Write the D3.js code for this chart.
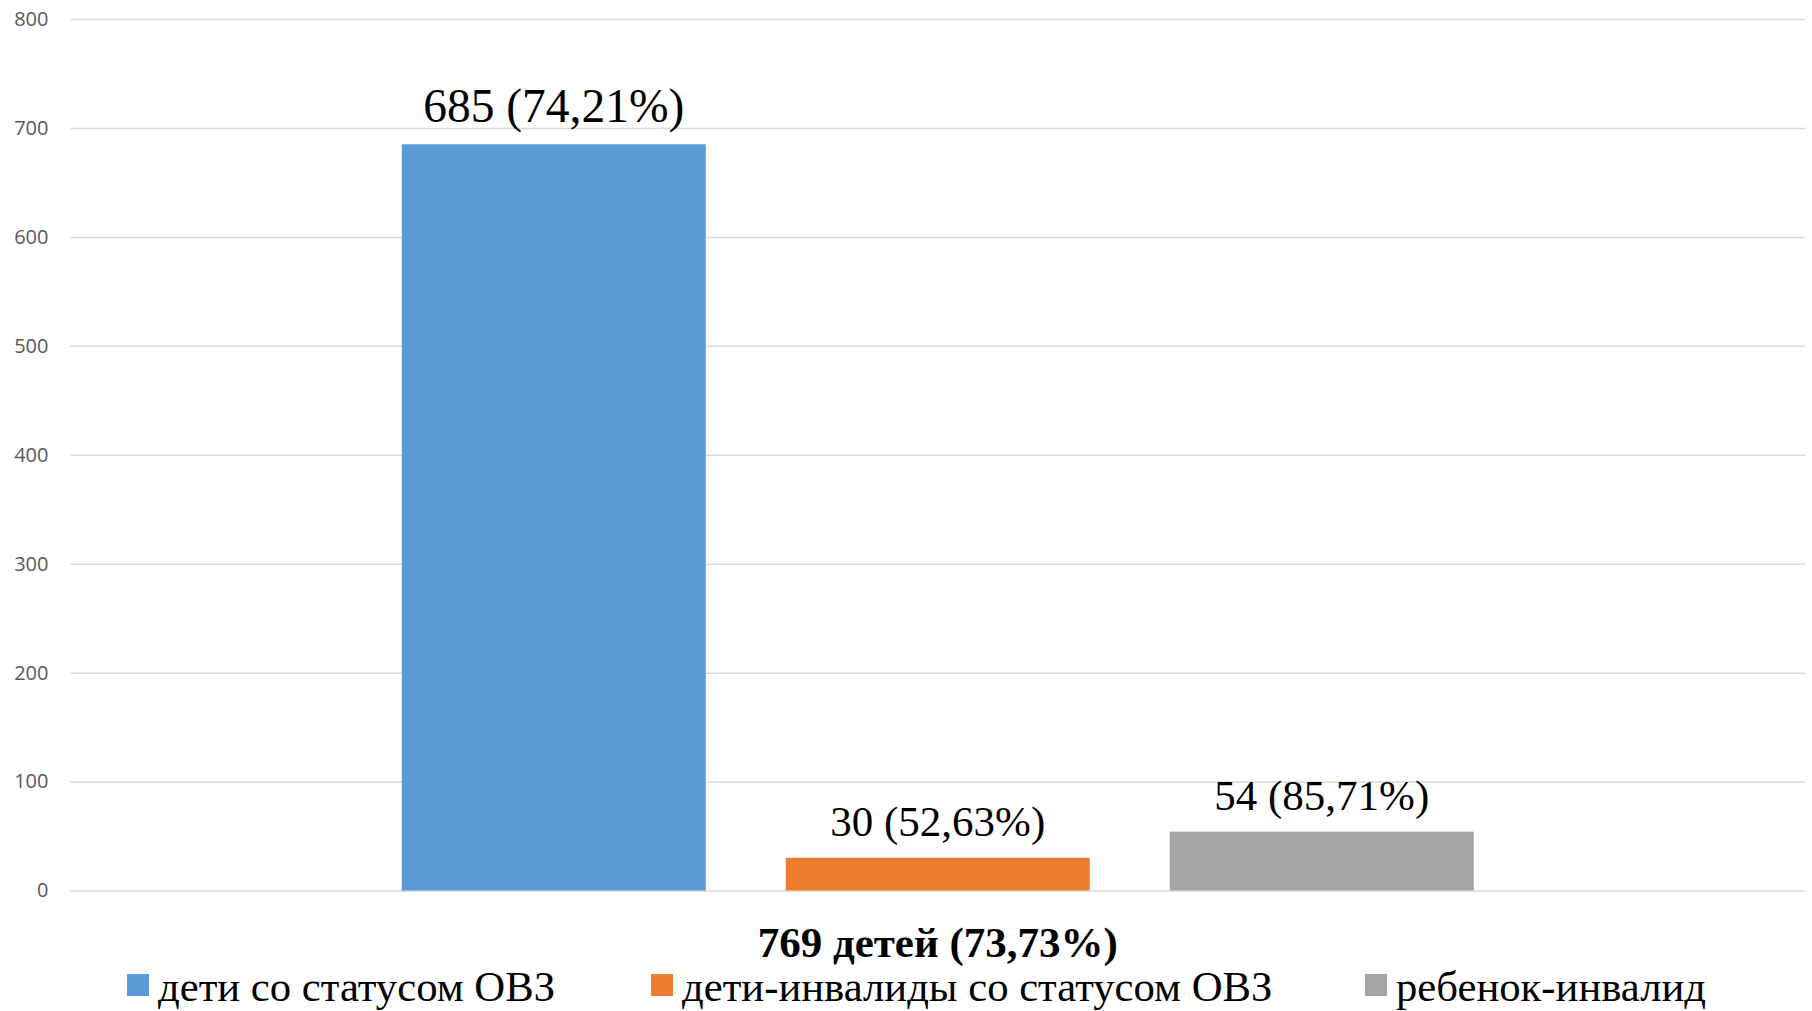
<!DOCTYPE html>
<html>
<head>
<meta charset="utf-8">
<script src="https://cdn.jsdelivr.net/npm/d3@7"></script>
<style>
  body { margin: 0; background: #fff; }
  svg { display: block; }
</style>
</head>
<body>
<div id="chart"></div>
<script>
// данные
const categories = [""];
const seriesNames = ["дети со статусом ОВЗ", "дети-инвалиды со статусом ОВЗ", "ребенок-инвалид"];
const seriesValues = [685, 30, 54];
const seriesPercents = ["74,21%", "52,63%", "85,71%"];
const seriesColors = ["#5b9bd5", "#ed7d31", "#a5a5a5"];
const yTicks = [0, 100, 200, 300, 400, 500, 600, 700, 800];
const axisTitle = "769 детей (73,73%)";

const width = 1812, height = 1011;
const margin = { top: 19, right: 7, bottom: 120.5, left: 70.5 };
const labelSizes = [47.5, 43, 43];
const serif = "'Liberation Serif', 'Times New Roman', serif";

const svg = d3.select("#chart").append("svg")
  .attr("width", width)
  .attr("height", height);

const y = d3.scaleLinear()
  .domain([0, 800])
  .range([height - margin.bottom, margin.top]);

const x0 = d3.scaleBand()
  .domain(categories)
  .range([margin.left, width - margin.right])
  .paddingInner(0)
  .paddingOuter(0.309);

const x1 = d3.scaleBand()
  .domain(seriesNames)
  .range([0, x0.bandwidth()])
  .paddingInner(0.2083)
  .paddingOuter(0);

// сетка
const yAxis = d3.axisLeft(y)
  .tickValues(yTicks)
  .tickSize(-(width - margin.left - margin.right))
  .tickPadding(22);

const gAxis = svg.append("g")
  .attr("transform", `translate(${margin.left},0)`)
  .call(yAxis);

gAxis.select(".domain").remove();
gAxis.selectAll(".tick line")
  .attr("stroke", "#d9d9d9")
  .attr("stroke-width", 1.5);
gAxis.selectAll(".tick text")
  .attr("fill", "#595959")
  .style("font-family", "'Open Sans', sans-serif")
  .style("font-size", "20px");

// столбцы
const g = svg.append("g")
  .attr("transform", `translate(${x0(categories[0])},0)`);

g.selectAll("rect")
  .data(seriesNames)
  .join("rect")
  .attr("x", (d) => x1(d))
  .attr("y", (d, i) => y(seriesValues[i]))
  .attr("width", x1.bandwidth())
  .attr("height", (d, i) => y(0) - y(seriesValues[i]))
  .attr("fill", (d, i) => seriesColors[i]);

// подписи данных
g.selectAll("text.label")
  .data(seriesNames)
  .join("text")
  .attr("class", "label")
  .attr("x", (d) => x1(d) + x1.bandwidth() / 2)
  .attr("y", (d, i) => y(seriesValues[i]) - 22)
  .attr("text-anchor", "middle")
  .style("font-family", serif)
  .style("font-size", (d, i) => labelSizes[i] + "px")
  .attr("fill", "#000")
  .text((d, i) => `${seriesValues[i]} (${seriesPercents[i]})`);

// подпись оси
svg.append("text")
  .attr("x", x0(categories[0]) + x0.bandwidth() / 2)
  .attr("y", 957)
  .attr("text-anchor", "middle")
  .style("font-family", serif)
  .style("font-size", "43px")
  .style("font-weight", "bold")
  .text(axisTitle);

// легенда
const legendX = [127, 651, 1365];
const legend = svg.append("g");
seriesNames.forEach((name, i) => {
  const item = legend.append("g").attr("transform", `translate(${legendX[i]},0)`);
  item.append("rect")
    .attr("x", 0)
    .attr("y", 974)
    .attr("width", 22)
    .attr("height", 22)
    .attr("fill", seriesColors[i]);
  item.append("text")
    .attr("x", 31)
    .attr("y", 1001)
    .style("font-family", serif)
    .style("font-size", "42.7px")
    .text(name);
});
</script>
</body>
</html>
